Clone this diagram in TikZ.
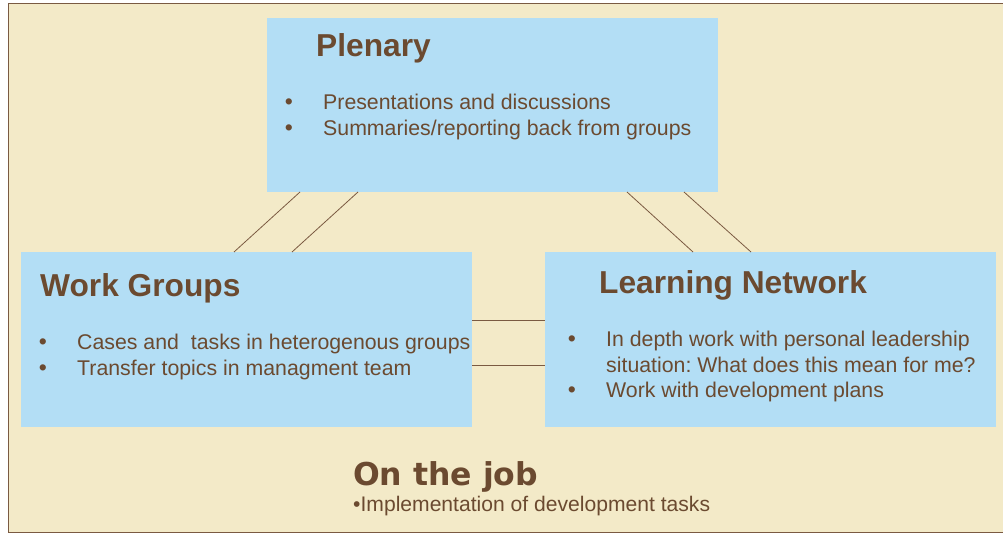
\documentclass[tikz,border=0pt]{standalone}
\usepackage{fontspec}
\setmainfont{Liberation Sans}
\newfontfamily\jobfont{DejaVu Sans}
\definecolor{bgcream}{HTML}{F3EAC8}
\definecolor{boxblue}{HTML}{B3DEF5}
\definecolor{txtbrown}{HTML}{6B4A30}
\definecolor{rulebrown}{HTML}{7A5A42}
\frenchspacing

\begin{document}
\begin{tikzpicture}[x=1pt,y=-1pt,
  panel/.style={fill=boxblue, draw=none, inner sep=0pt, outer sep=0pt, anchor=north west,
                minimum width=451pt, minimum height=174pt},
  heading/.style={anchor=base west, inner sep=0pt, text=txtbrown,
                  font=\fontsize{31.7}{36}\selectfont\bfseries},
  item/.style={anchor=base west, inner sep=0pt, text=txtbrown,
               font=\fontsize{21.3}{25.7}\selectfont},
  dot/.style={anchor=base, inner sep=0pt, text=txtbrown,
              font=\fontsize{23}{25.7}\selectfont},
  link/.style={draw=rulebrown, line width=0.8pt}]

\useasboundingbox (0,0) rectangle (1003,548);
\clip (0,0) rectangle (1003,548);

% cream frame
\fill[bgcream] (8,3.5) rectangle (1012,532.5);
\draw[rulebrown, line width=1pt] (8,3.5) rectangle (1012,532.5);

% three panels
\node[panel] (pl) at (267,18) {};
\node[panel, minimum height=175pt] (wg) at (21,252) {};
\node[panel, minimum height=175pt] (ln) at (545,252) {};

% double connectors between panels
\draw[link] ([xshift=33pt]pl.south west) -- ([xshift=213pt]wg.north west);
\draw[link] ([xshift=91pt]pl.south west) -- ([xshift=271pt]wg.north west);
\draw[link] ([xshift=360pt]pl.south west) -- ([xshift=148pt]ln.north west);
\draw[link] ([xshift=417pt]pl.south west) -- ([xshift=206pt]ln.north west);
\draw[link] ([yshift=-68pt]wg.north east) -- ([yshift=-68pt]ln.north west);
\draw[link] ([yshift=-113.3pt]wg.north east) -- ([yshift=-113.3pt]ln.north west);

% Plenary
\node[heading] (plT) at (316,57) {Plenary};
\node[dot] (plD1) at (289,110) {•};
\node[item] (plI1) at (323,110) {Presentations and discussions};
\node[dot] (plD2) at (289,136) {•};
\node[item] (plI2) at (323,136) {Summaries/reporting back from groups};

% Work Groups
\node[heading] (wgT) at (40,296) {Work Groups};
\node[dot] (wgD1) at (43,349) {•};
\node[item] (wgI1) at (77,349) {Cases and~ tasks in heterogenous groups};
\node[dot] (wgD2) at (43,375) {•};
\node[item] (wgI2) at (77,375) {Transfer topics in managment team};

% Learning Network
\node[heading] (lnT) at (599,293) {Learning Network};
\node[dot] (lnD1) at (572,346.5) {•};
\node[item] (lnI1) at (606,346.5) {In depth work with personal leadership};
\node[item] (lnI1b) at (606,372) {situation: What does this mean for me?};
\node[dot] (lnD2) at (572,397.7) {•};
\node[item] (lnI2) at (606,397.7) {Work with development plans};

% On the job
\node[anchor=base west, inner sep=0pt, text=txtbrown,
      font=\jobfont\fontsize{31.5}{36}\selectfont\bfseries] (jobT) at (353,485) {On the job};
\node[anchor=base west, inner sep=0pt, text=txtbrown,
      font=\fontsize{21.1}{25}\selectfont] (jobI) at (353,511.5) {•Implementation of development tasks};
\end{tikzpicture}
\end{document}
